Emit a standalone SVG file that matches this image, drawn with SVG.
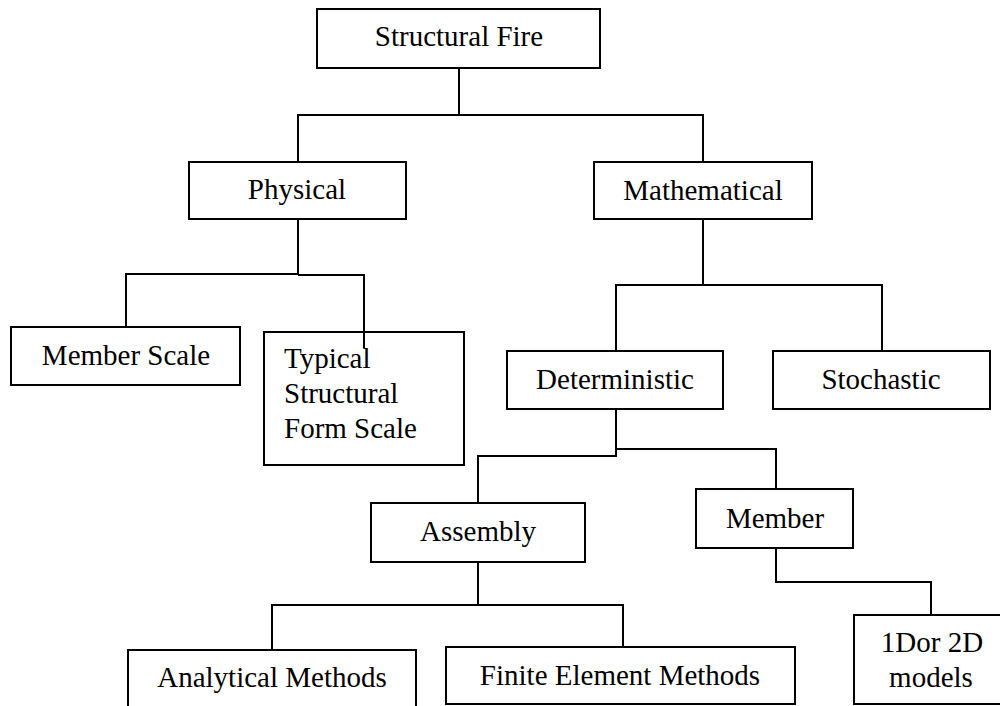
<svg xmlns="http://www.w3.org/2000/svg" width="1000" height="706" viewBox="0 0 1000 706">
  <style>
    .box { fill: #ffffff; stroke: #000000; stroke-width: 2; }
    .link { fill: none; stroke: #000000; stroke-width: 2; }
    .label { font-family: "Liberation Serif", "Times New Roman", serif; font-size: 29px; fill: #000000; }
    .c { text-anchor: middle; }
  </style>
  <rect width="1000" height="706" fill="#ffffff"/>

  <g id="connectors">
    <polyline class="link" points="459,68 459,115"/>
    <polyline class="link" points="298,162 298,115 703,115 703,162"/>
    <polyline class="link" points="298,219 298,274"/>
    <polyline class="link" points="126,327 126,274 298,274"/>
    <polyline class="link" points="298,275 364,275 364,348"/>
    <polyline class="link" points="703,219 703,285"/>
    <polyline class="link" points="616,351 616,285 882,285 882,351"/>
    <polyline class="link" points="616,409 616,456 478,456 478,503"/>
    <polyline class="link" points="616,449 776,449 776,489"/>
    <polyline class="link" points="478,562 478,605"/>
    <polyline class="link" points="272,650 272,605 623,605 623,650"/>
    <polyline class="link" points="776,548 776,582 931,582 931,615"/>
  </g>

  <g id="structural-fire">
    <rect class="box" x="317" y="9" width="283" height="59"/>
    <text class="label c" x="459" y="46">Structural Fire</text>
  </g>
  <g id="physical">
    <rect class="box" x="189" y="162" width="217" height="57"/>
    <text class="label c" x="297" y="199">Physical</text>
  </g>
  <g id="mathematical">
    <rect class="box" x="594" y="162" width="218" height="57"/>
    <text class="label c" x="703" y="200">Mathematical</text>
  </g>
  <g id="member-scale">
    <rect class="box" x="11" y="327" width="229" height="58"/>
    <text class="label c" x="126" y="365">Member Scale</text>
  </g>
  <g id="typical-structural-form-scale">
    <rect class="box" x="264" y="332" width="200" height="133" fill="none" style="fill:none"/>
    <text class="label" x="284" y="368">Typical</text>
    <text class="label" x="284" y="403">Structural</text>
    <text class="label" x="284" y="438">Form Scale</text>
  </g>
  <g id="deterministic">
    <rect class="box" x="507" y="351" width="216" height="58"/>
    <text class="label c" x="615" y="389">Deterministic</text>
  </g>
  <g id="stochastic">
    <rect class="box" x="773" y="351" width="217" height="58"/>
    <text class="label c" x="881" y="389">Stochastic</text>
  </g>
  <g id="assembly">
    <rect class="box" x="371" y="503" width="214" height="59"/>
    <text class="label c" x="478" y="541">Assembly</text>
  </g>
  <g id="member">
    <rect class="box" x="696" y="489" width="157" height="59"/>
    <text class="label c" x="775" y="528">Member</text>
  </g>
  <g id="analytical-methods">
    <rect class="box" x="128" y="650" width="288" height="62"/>
    <text class="label c" x="272" y="687">Analytical Methods</text>
  </g>
  <g id="finite-element-methods">
    <rect class="box" x="446" y="647" width="349" height="57"/>
    <text class="label c" x="620" y="685">Finite Element Methods</text>
  </g>
  <g id="models-1d-2d">
    <rect class="box" x="854" y="615" width="156" height="89"/>
    <text class="label c" x="932" y="652">1Dor 2D</text>
    <text class="label c" x="931" y="687">models</text>
  </g>
</svg>
